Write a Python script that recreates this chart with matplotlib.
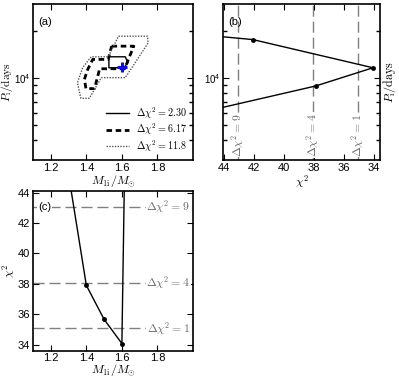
import matplotlib
matplotlib.use("Agg")
import matplotlib.pyplot as plt
from matplotlib import ticker

plt.rcParams["mathtext.fontset"] = "cm"
plt.rcParams["font.family"] = ["Liberation Sans", "DejaVu Sans"]
plt.rcParams["font.size"] = 8
plt.rcParams["xtick.direction"] = "in"
plt.rcParams["ytick.direction"] = "in"
plt.rcParams["xtick.top"] = True
plt.rcParams["ytick.right"] = True
plt.rcParams["xtick.major.size"] = 4
plt.rcParams["ytick.major.size"] = 4
plt.rcParams["xtick.minor.size"] = 3
plt.rcParams["ytick.minor.size"] = 3
plt.rcParams["ytick.minor.width"] = 1.0
plt.rcParams["xtick.major.pad"] = 2
plt.rcParams["ytick.major.pad"] = 2
plt.rcParams["axes.linewidth"] = 1.2

# panel (a): confidence regions in the (M1i, Pi) plane
best_m = 1.6
best_p = 1.18e4
cont230_m = [1.527, 1.619, 1.634, 1.610, 1.527, 1.527]
cont230_p = [1.373e4, 1.373e4, 1.257e4, 1.168e4, 1.168e4, 1.373e4]
cont617_m = [1.542, 1.667, 1.629, 1.615, 1.475, 1.446, 1.398, 1.389, 1.408, 1.436, 1.523, 1.542]
cont617_p = [1.606e4, 1.606e4, 1.257e4, 1.151e4, 1.151e4, 8.59e3, 8.59e3, 9.85e3, 1.141e4, 1.321e4, 1.321e4, 1.606e4]
cont118_m = [1.581, 1.744, 1.748, 1.619, 1.484, 1.417, 1.369, 1.350, 1.379, 1.427, 1.523, 1.581]
cont118_p = [1.86e4, 1.86e4, 1.686e4, 1.009e4, 1.009e4, 7.45e3, 7.45e3, 9.37e3, 1.168e4, 1.373e4, 1.373e4, 1.86e4]
cont_labels = [r"$\Delta\chi^2 = 2.30$", r"$\Delta\chi^2 = 6.17$", r"$\Delta\chi^2 = 11.8$"]

# panel (b): chi2 profile along Pi
chi2_b = [46.0, 37.88, 34.07, 42.07, 48.0]
p_b = [5.9e3, 8.93e3, 1.168e4, 1.77e4, 2.0e4]

# panel (c): chi2 profile along M1i
m_c = [1.3, 1.4, 1.5, 1.6, 1.7]
chi2_c = [45.2, 37.9, 35.66, 34.07, 110.0]

chi2_min = 34.07
delta_chi2 = [1, 4, 9]
delta_labels = [r"$\Delta\chi^2 = 1$", r"$\Delta\chi^2 = 4$", r"$\Delta\chi^2 = 9$"]

# log-axis minor tick positions
p_minor = [4e3, 5e3, 6e3, 7e3, 8e3, 9e3, 2e4]

ref_color = "#808080"
lab_color = "#6a6a6a"
ref_dash = (0, (8, 3.5))
lab_size = 8.7

fig = plt.figure(figsize=(3.99, 3.79), dpi=100)
ax_a = fig.add_axes([0.0827, 0.578, 0.401, 0.412])
ax_b = fig.add_axes([0.559, 0.578, 0.3935, 0.412])
ax_c = fig.add_axes([0.0827, 0.0747, 0.401, 0.421])

# ---- (a)
ax_a.plot(cont230_m, cont230_p, color="k", lw=1.0, label=cont_labels[0])
ax_a.plot(cont617_m, cont617_p, color="k", lw=2.0, ls=(0, (2, 1.3)), label=cont_labels[1])
ax_a.plot(cont118_m, cont118_p, color="#555555", lw=1.0, ls=(0, (1, 1)), label=cont_labels[2])
ax_a.plot([best_m], [best_p], marker="+", color="#1010dd", ms=7, mew=2.2, ls="none")
ax_a.set_yscale("log")
ax_a.set_xlim(1.1, 2.0)
ax_a.set_ylim(3e3, 3e4)
ax_a.set_xticks([1.2, 1.4, 1.6, 1.8])
ax_a.yaxis.set_minor_locator(ticker.FixedLocator(p_minor))
ax_a.yaxis.set_minor_formatter(ticker.NullFormatter())
ax_a.tick_params(axis="y", labelsize=7, pad=1.5)
ax_a.set_xlabel(r"$M_{\rm 1i}/M_{\odot}$", fontsize=lab_size, labelpad=0)
ax_a.set_ylabel(r"$P_{\rm i}/{\rm days}$", fontsize=8.2)
ax_a.yaxis.set_label_coords(-0.11, 0.5)
ax_a.text(0.03, 0.885, "(a)", transform=ax_a.transAxes, fontsize=8, va="center")
ax_a.legend(loc="lower right", frameon=False, fontsize=7.3, handlelength=2.2,
            labelspacing=0.1, borderaxespad=0.2, handletextpad=0.7)

# ---- (b)
ax_b.plot(chi2_b, p_b, color="k", lw=1.0, marker="o", ms=2.5)
ax_b.set_yscale("log")
ax_b.set_xlim(44.05, 33.6)
ax_b.set_ylim(3e3, 3e4)
ax_b.set_xticks([44, 42, 40, 38, 36, 34])
ax_b.yaxis.set_minor_locator(ticker.FixedLocator(p_minor))
ax_b.yaxis.set_minor_formatter(ticker.NullFormatter())
ax_b.tick_params(axis="y", labelsize=7, pad=1.5)
for d, lab in zip(delta_chi2, delta_labels):
    x = chi2_min + d
    ax_b.axvline(x, color=ref_color, lw=1.0, ls=ref_dash, zorder=1)
    ax_b.text(x, 0.16, lab, transform=ax_b.get_xaxis_transform(), rotation=90,
              ha="center", va="center", fontsize=8.5, color=lab_color,
              bbox=dict(facecolor="white", edgecolor="none", pad=0.5), zorder=2)
ax_b.set_xlabel(r"$\chi^2$", fontsize=lab_size, labelpad=0)
ax_b.yaxis.set_label_position("right")
ax_b.set_ylabel(r"$P_{\rm i}/{\rm days}$", fontsize=lab_size, labelpad=1)
ax_b.text(0.03, 0.885, "(b)", transform=ax_b.transAxes, fontsize=8, va="center")

# ---- (c)
ax_c.plot(m_c, chi2_c, color="k", lw=1.0, marker="o", ms=2.5)
ax_c.set_xlim(1.1, 2.0)
ax_c.set_ylim(33.6, 44.1)
ax_c.set_xticks([1.2, 1.4, 1.6, 1.8])
ax_c.set_yticks([34, 36, 38, 40, 42, 44])
for d, lab in zip(delta_chi2, delta_labels):
    y = chi2_min + d
    ax_c.axhline(y, color=ref_color, lw=1.0, ls=ref_dash, zorder=1)
    ax_c.text(0.845, y, lab, transform=ax_c.get_yaxis_transform(),
              ha="center", va="center", fontsize=8.5, color=lab_color,
              bbox=dict(facecolor="white", edgecolor="none", pad=0.5), zorder=2)
ax_c.text(0.03, chi2_min + 9, "(c)", transform=ax_c.get_yaxis_transform(), fontsize=8,
          va="center", bbox=dict(facecolor="white", edgecolor="none", pad=0.5), zorder=2)
ax_c.set_xlabel(r"$M_{\rm 1i}/M_{\odot}$", fontsize=lab_size)
ax_c.xaxis.set_label_coords(0.5, -0.072)
ax_c.set_ylabel(r"$\chi^2$", fontsize=lab_size)
ax_c.yaxis.set_label_coords(-0.1, 0.5)

fig.savefig("out.png", dpi=100)
